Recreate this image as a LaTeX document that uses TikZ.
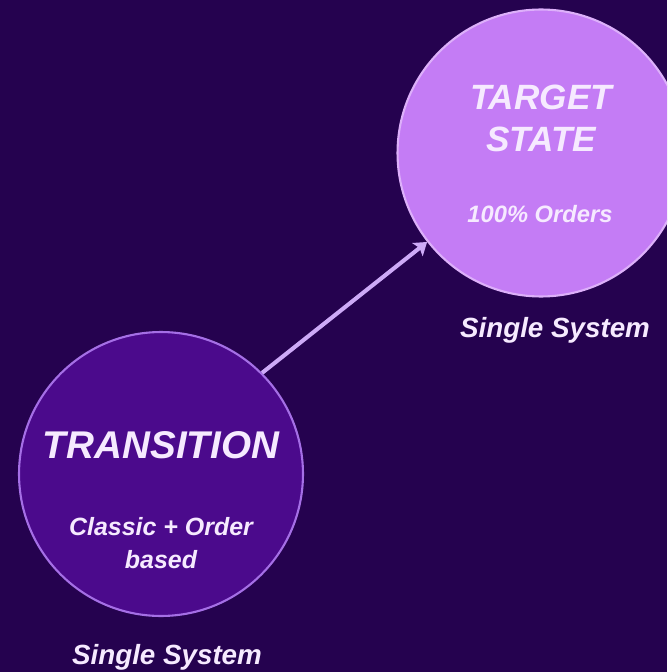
\documentclass[tikz,border=0pt]{standalone}
\usepackage{fontspec}
\setmainfont{Liberation Sans}
\usetikzlibrary{arrows.meta}

\definecolor{bgpurple}{HTML}{25024F}
\definecolor{darkorb}{HTML}{4B0A8C}
\definecolor{darkring}{HTML}{A56FE6}
\definecolor{lightorb}{HTML}{C47CF5}
\definecolor{lightring}{HTML}{DDB0FA}
\definecolor{inktext}{HTML}{F6EAFF}
\definecolor{arrowcol}{HTML}{CDAAF7}

\tikzset{
  orb/.style={circle, inner sep=0pt, minimum size=#1},
  title/.style={text=inktext, font=\fontsize{20}{24}\selectfont\bfseries\itshape, align=center},
  note/.style={text=inktext, font=\fontsize{14.2}{18.6}\selectfont\bfseries\itshape, align=center},
  caption/.style={text=inktext, font=\fontsize{15.8}{19}\selectfont\bfseries\itshape},
  flow/.style={draw=arrowcol, line width=2.3pt, -{Stealth[length=7pt,width=9.5pt,inset=1.5pt]}}
}

\begin{document}
\begin{tikzpicture}[x=0.02cm,y=-0.02cm]
      \clip (0,0) rectangle (667,672);
      \fill[bgpurple] (0,0) rectangle (667,672);
      \draw
        (161,474) node[orb=5.68cm, fill=darkorb, draw=darkring, line width=1.2pt] (trans){}
        (541,153) node[orb=5.74cm, fill=lightorb, draw=lightring, line width=1.2pt] (target){};
      \draw
        (161,445) node[title, font=\fontsize{22}{26}\selectfont\bfseries\itshape] (transtitle){TRANSITION}
        (161,543) node[note] (transnote){Classic + Order\\based}
        (167,657) node[caption] (transcap){Single System}
        (541,118) node[title] (targettitle){TARGET\\STATE}
        (540,214) node[note, font=\fontsize{13.5}{16}\selectfont\bfseries\itshape] (targetnote){100\% Orders}
        (555,330) node[caption] (targetcap){Single System};
      \begin{scope}[flow]
        \draw (trans.45) to (target.218);
      \end{scope}
    \end{tikzpicture}
\end{document}
